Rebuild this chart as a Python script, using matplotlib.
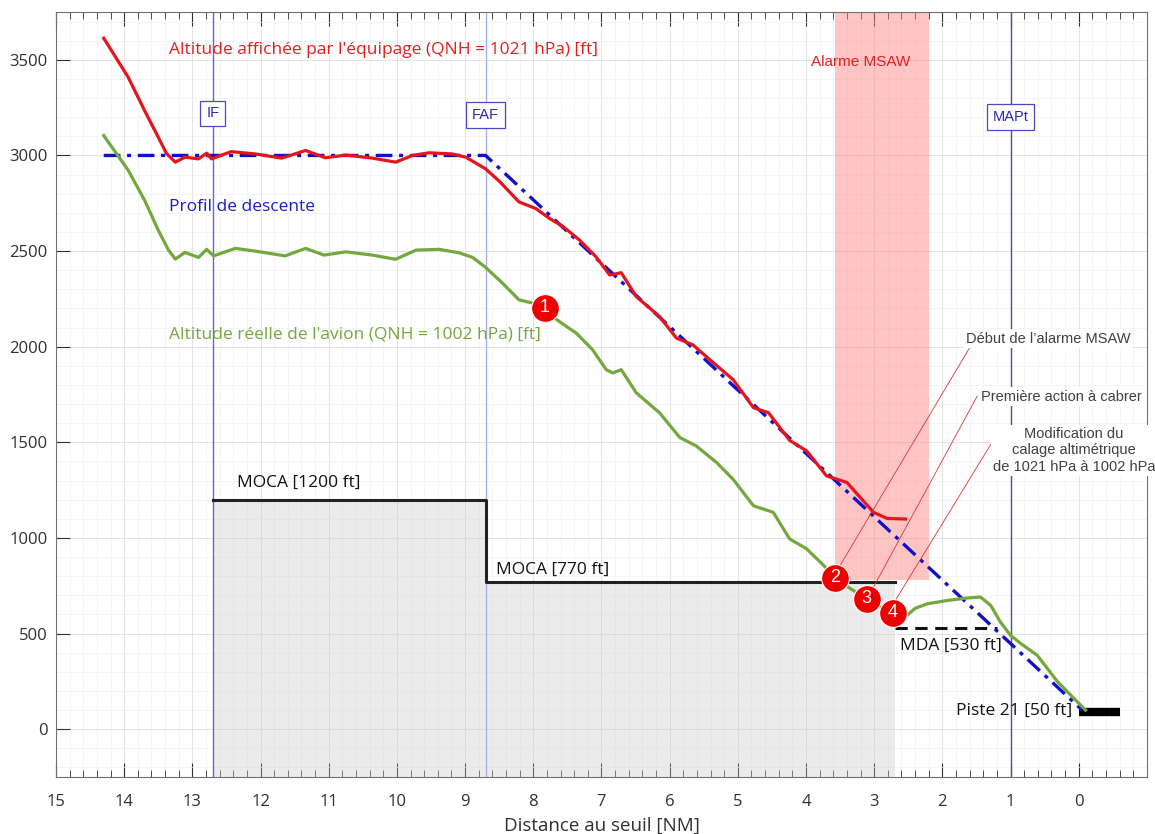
import matplotlib.pyplot as plt
from matplotlib.ticker import MultipleLocator

# --- data ------------------------------------------------------------------
red_x = [14.30, 13.94, 13.70, 13.50, 13.38, 13.25, 13.11, 12.91, 12.79, 12.72,
         12.43, 12.08, 11.69, 11.34, 11.05, 10.75, 10.36, 10.02, 9.77, 9.53,
         9.19, 8.99, 8.70, 8.50, 8.21, 7.96, 7.76, 7.57, 7.32, 7.08, 6.88,
         6.71, 6.49, 6.15, 5.90, 5.66, 5.41, 5.07, 4.77, 4.55, 4.24, 3.99,
         3.70, 3.40, 3.01, 2.81, 2.54]
red_y = [3613, 3408, 3234, 3095, 3010, 2965, 2991, 2982, 3012, 2982,
         3020, 3008, 2986, 3026, 2988, 3002, 2986, 2965, 3000, 3014,
         3008, 2991, 2930, 2866, 2757, 2722, 2670, 2630, 2557, 2470, 2375,
         2387, 2262, 2158, 2045, 2010, 1932, 1828, 1681, 1655, 1510, 1455,
         1325, 1290, 1134, 1102, 1099]

green_x = [14.30, 13.94, 13.70, 13.50, 13.35, 13.25, 13.11, 12.91, 12.79, 12.69,
           12.37, 12.08, 11.64, 11.34, 11.07, 10.75, 10.36, 10.02, 9.72, 9.38,
           9.09, 8.89, 8.70, 8.45, 8.21, 7.96, 7.62, 7.37, 7.13, 6.93, 6.83,
           6.71, 6.49, 6.15, 5.85, 5.61, 5.31, 5.07, 4.77, 4.48, 4.24, 3.99,
           3.74, 3.57, 3.11, 2.73, 2.52, 2.40, 2.22, 1.93, 1.64, 1.44, 1.29, 1.15,
           1.00, 0.85, 0.61, 0.31, 0.07, -0.10]
green_y = [3104, 2922, 2765, 2609, 2505, 2458, 2493, 2467, 2509, 2475,
           2514, 2500, 2475, 2514, 2479, 2496, 2479, 2457, 2505, 2509,
           2491, 2467, 2415, 2332, 2245, 2224, 2132, 2071, 1984, 1880, 1863,
           1880, 1759, 1655, 1525, 1481, 1394, 1307, 1168, 1134, 995, 943,
           856, 785, 682, 606, 595, 632, 656, 673, 686, 691, 647, 561,
           491, 448, 387, 248, 161, 100]

profile_x = [14.3, 8.7, -0.05]
profile_y = [3000, 3000, 100]

moca_x = [12.7, 8.7, 8.7, 2.7]
moca_y = [1200, 1200, 770, 770]
mda_x = [2.7, 1.2]
mda_y = [530, 530]
runway_x = [0.0, -0.6]
runway_y = [90, 90]

fixes = ["IF", "FAF", "MAPt"]
fix_x = [12.7, 8.7, 1.0]
fix_label_y = [3220, 3210, 3200]

msaw_x = (3.57, 2.2)
msaw_bottom = 780

event_ids = ["1", "2", "3", "4"]
event_x = [7.83, 3.57, 3.11, 2.73]
event_y = [2203, 792, 682, 609]

# annotation leader lines: (from x, from y, to x, to y)
leaders = [(3.50, 856, 1.59, 2001), (3.01, 743, 1.49, 1741), (2.69, 673, 1.29, 1489)]
notes = ["Début de l\u2019alarme MSAW", "Première action à cabrer",
         "Modification du\ncalage altimétrique\nde 1021 hPa à 1002 hPa"]
note_x = [0.44, 0.26, 0.07]
note_y = [2042, 1739, 1458]

RED = "#e8141b"
GREEN = "#72a83e"
BLUE = "#1010cc"
UI_FONT = ["Open Sans", "DejaVu Sans"]
ARIAL = ["Liberation Sans", "DejaVu Sans"]

plt.rcParams["font.family"] = UI_FONT

fig = plt.figure(figsize=(11.55, 8.34), dpi=100)
ax = fig.add_axes([0.0485, 0.0683, 0.9445, 0.9173])
ax.set_xlim(15, -1)
ax.set_ylim(-250, 3750)

# grid + ticks
ax.xaxis.set_major_locator(MultipleLocator(1))
ax.xaxis.set_minor_locator(MultipleLocator(0.2))
ax.yaxis.set_major_locator(MultipleLocator(500))
ax.yaxis.set_minor_locator(MultipleLocator(100))
ax.set_xticks(range(0, 16))
ax.grid(which="major", color="#e4e4e4", lw=0.7, zorder=0)
ax.grid(which="minor", color="#f1f1f1", lw=0.5, zorder=0)
ax.set_axisbelow(True)
ax.tick_params(axis="x", which="major", direction="in", length=10, top=True,
               labelsize=12, colors="#303030", pad=12)
ax.tick_params(axis="x", which="minor", direction="in", length=5, top=True, color="#303030")
ax.tick_params(axis="y", which="major", direction="in", length=10,
               labelsize=12, colors="#303030", pad=6)
ax.tick_params(axis="y", which="minor", length=0)
for sp in ax.spines.values():
    sp.set_color("#707070")
ax.set_xlabel("Distance au seuil [NM]", fontsize=13.5, color="#303030", labelpad=5)

# terrain / MOCA shaded area and MSAW band
ax.fill_between(moca_x, -250, moca_y, color="#c8c8c8", alpha=0.35, lw=0, zorder=1)
ax.axvspan(msaw_x[0], msaw_x[1], ymin=(msaw_bottom + 250) / 4000, ymax=1,
           color="#ff8080", alpha=0.45, lw=0, zorder=1)
ax.text(3.2, 3490, "Alarme MSAW", color="#e02020", fontsize=11,
        ha="center", va="center", family=ARIAL)

# fix verticals
fix_colors = ["#6068c8", "#a8aef0", "#4a4ab0"]
for name, x, y, c in zip(fixes, fix_x, fix_label_y, fix_colors):
    ax.axvline(x, color=c, lw=1.0, zorder=2)
    ax.text(x, y, name, color="#2a2ab0", fontsize=10.5, ha="center", va="center", family=ARIAL,
            bbox=dict(boxstyle="square,pad=0.4", fc="white", ec="#4a4ac0", lw=0.9), zorder=6)

# minima
ax.plot(moca_x, moca_y, color="#222222", lw=2.2, zorder=3)
ax.plot(mda_x, mda_y, color="#111111", lw=2.2, ls=(0, (4, 2.5)), zorder=3)
ax.plot(runway_x, runway_y, color="black", lw=6, solid_capstyle="butt", zorder=3)
ax.text(12.35, 1290, "MOCA [1200 ft]", fontsize=12.5, color="#111111", va="center")
ax.text(8.55, 833, "MOCA [770 ft]", fontsize=12.5, color="#111111", va="center")
ax.text(2.62, 435, "MDA [530 ft]", fontsize=12.5, color="#111111", va="center")
ax.text(0.1, 94, "Piste 21 [50 ft]", fontsize=12.5, color="#111111", va="center", ha="right")

# flight data
ax.plot(profile_x, profile_y, color=BLUE, lw=2.4, ls=(0, (5, 2, 1.2, 2)), zorder=4)
ax.plot(red_x, red_y, color=RED, lw=2.3, zorder=5)
ax.plot(green_x, green_y, color=GREEN, lw=2.3, zorder=5)

ax.text(13.35, 3552, "Altitude affichée par l'équipage (QNH = 1021 hPa) [ft]",
        color="#e02020", fontsize=12.5, va="center")
ax.text(13.35, 2729, "Profil de descente", color="#1a1acc", fontsize=12.5, va="center")
ax.text(13.35, 2062, "Altitude réelle de l'avion (QNH = 1002 hPa) [ft]",
        color=GREEN, fontsize=12.5, va="center")

# event leaders and notes
for x0, y0, x1, y1 in leaders:
    ax.plot([x0, x1], [y0, y1], color="#e03030", lw=0.6, zorder=5)
for txt, x, y in zip(notes, note_x, note_y):
    ax.text(x, y, txt, fontsize=10.5, color="#404040", ha="center", va="center",
            family=ARIAL, linespacing=1.2, clip_on=False, zorder=7,
            bbox=dict(boxstyle="square,pad=0.15", fc="white", ec="none"))

# numbered event markers
ax.plot(event_x, event_y, "o", ms=20, color="#ee0000", mec="white", mew=0.8, zorder=8)
for label, x, y in zip(event_ids, event_x, event_y):
    ax.text(x, y, label, color="white", fontsize=13, ha="center", va="center",
            family=ARIAL, zorder=9)

fig.savefig("out.png", dpi=100, facecolor="white")
